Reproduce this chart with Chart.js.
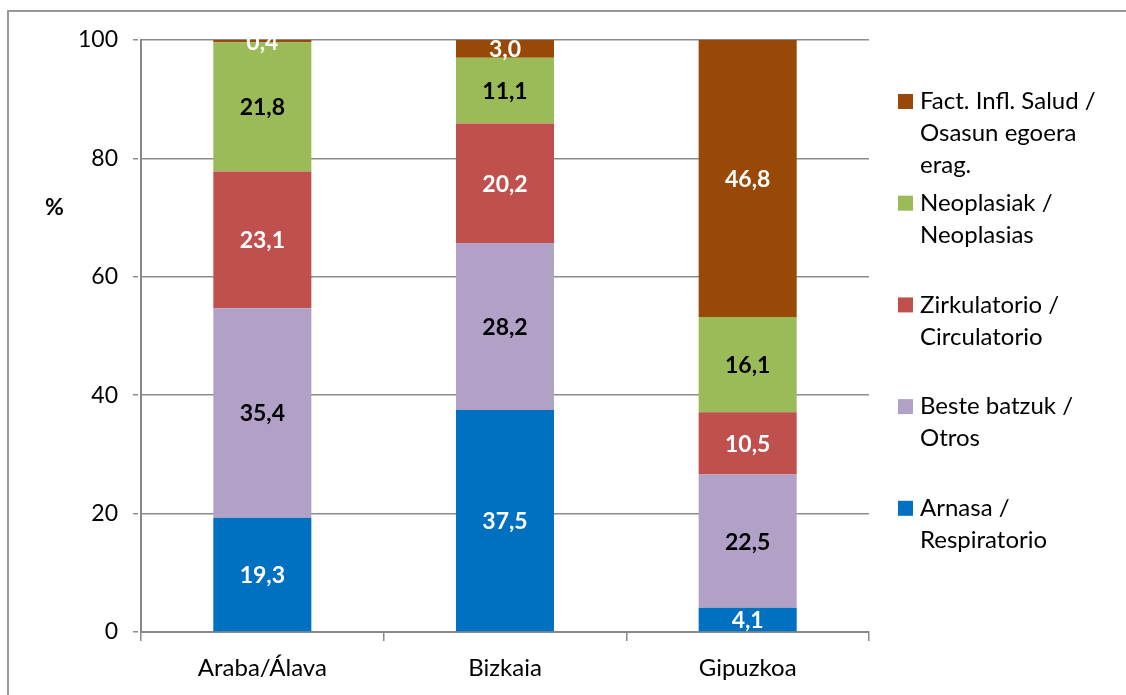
<!DOCTYPE html>
<html>
<head>
<meta charset="utf-8">
<script src="https://cdn.jsdelivr.net/npm/chart.js@4"></script>
<style>
html,body{margin:0;padding:0;background:#fff;overflow:hidden;}
#frame{position:absolute;left:7px;top:10px;width:3000px;height:3000px;border-left:2px solid #999;border-top:2px solid #999;}
#c{position:absolute;left:0;top:0;}
</style>
</head>
<body>
<div id="frame"></div>
<canvas id="c" width="1126" height="695"></canvas>
<script>
const categories = ['Araba/Álava', 'Bizkaia', 'Gipuzkoa'];
const seriesNames = [
  ['Arnasa /', 'Respiratorio'],
  ['Beste batzuk /', 'Otros'],
  ['Zirkulatorio /', 'Circulatorio'],
  ['Neoplasiak /', 'Neoplasias'],
  ['Fact. Infl. Salud /', 'Osasun egoera', 'erag.']
];
const respiratorio = [19.3, 37.5, 4.1];
const otros = [35.4, 28.2, 22.5];
const circulatorio = [23.1, 20.2, 10.5];
const neoplasias = [21.8, 11.1, 16.1];
const factInfl = [0.4, 3.0, 46.8];
const yTicks = [0, 20, 40, 60, 80, 100];

const colors = ['#0070C0', '#B2A1C7', '#C0504D', '#9BBB59', '#984807'];
const labelColors = ['#fff', '#000', '#fff', '#000', '#fff'];
const seriesValues = [respiratorio, otros, circulatorio, neoplasias, factInfl];

const FONT = 'Lato';
const FS = 24;
const FS_BAR = 23;

const barLabels = {
  id: 'barLabels',
  afterDatasetsDraw(chart) {
    const ctx = chart.ctx;
    ctx.save();
    ctx.font = 'bold ' + FS_BAR + 'px ' + FONT;
    ctx.textAlign = 'center';
    ctx.textBaseline = 'middle';
    chart.data.datasets.forEach((ds, i) => {
      const meta = chart.getDatasetMeta(i);
      meta.data.forEach((el, j) => {
        const p = el.getProps(['x', 'y', 'base'], true);
        ctx.fillStyle = labelColors[i];
        ctx.fillText(ds.data[j].toFixed(1).replace('.', ','), p.x, (p.y + p.base) / 2 + 1);
      });
    });
    ctx.restore();
  }
};

const sideText = {
  id: 'sideText',
  afterDraw(chart) {
    const ctx = chart.ctx;
    ctx.save();
    ctx.textBaseline = 'middle';
    ctx.textAlign = 'left';
    ctx.font = 'bold ' + FS_BAR + 'px ' + FONT;
    ctx.fillStyle = '#000';
    ctx.fillText('%', 45, 208);
    ctx.font = FS + 'px ' + FONT;
    const n = chart.data.datasets.length;
    const top = 101.5, step = 101.7, lineH = 32;
    for (let k = 0; k < n; k++) {
      const i = n - 1 - k;
      const ds = chart.data.datasets[i];
      const cy = top + k * step;
      ctx.fillStyle = ds.backgroundColor;
      ctx.fillRect(898, cy - 7.5, 15, 15);
      ctx.fillStyle = '#000';
      seriesNames[i].forEach((line, li) => {
        ctx.fillText(line, 920, cy + li * lineH);
      });
    }
    ctx.restore();
  }
};

Chart.defaults.font.family = FONT;
Chart.defaults.font.size = FS;
Chart.defaults.color = '#000';

new Chart(document.getElementById('c'), {
  type: 'bar',
  data: {
    labels: categories,
    datasets: seriesValues.map((vals, i) => ({
      label: seriesNames[i].join(' '),
      data: vals,
      backgroundColor: colors[i],
      borderWidth: 0,
      categoryPercentage: 1,
      barPercentage: 0.404
    }))
  },
  options: {
    responsive: false,
    animation: false,
    layout: { padding: { left: 0, top: 40, right: 257, bottom: 0 } },
    plugins: { legend: { display: false }, tooltip: { enabled: false } },
    scales: {
      x: {
        stacked: true,
        afterFit(s) { s.height = 63; },
        grid: { offset: true, drawOnChartArea: false, drawTicks: true, tickLength: 9, color: '#888', lineWidth: 1.5 },
        border: { display: true, color: '#888', width: 2 },
        ticks: { padding: 13, color: '#000' }
      },
      y: {
        stacked: true,
        min: 0,
        max: 100,
        afterFit(s) { s.width = 141; },
        afterBuildTicks(s) { s.ticks = yTicks.map(v => ({ value: v })); },
        grid: { color: '#8c8c8c', lineWidth: 1.5, borderDash: [5, 3], tickBorderDash: [5, 3], tickLength: 8, drawTicks: true },
        border: { display: true, color: '#888', width: 2 },
        ticks: { padding: 15, color: '#000', font: { size: 23 } }
      }
    }
  },
  plugins: [barLabels, sideText]
});
</script>
</body>
</html>
